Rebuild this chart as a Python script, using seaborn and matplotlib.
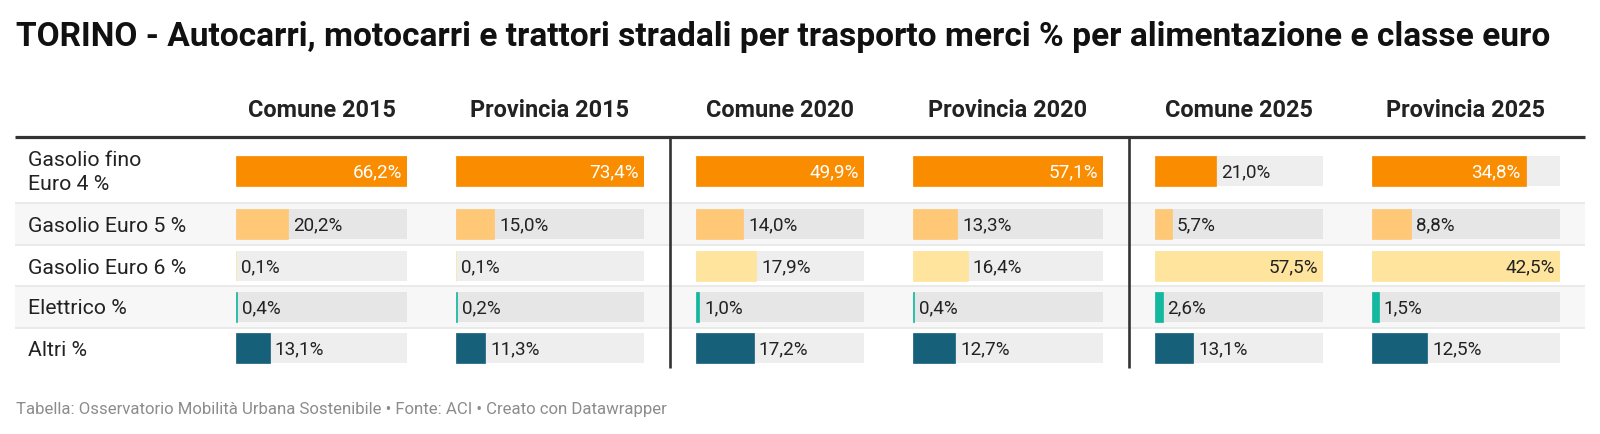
import matplotlib
matplotlib.use("Agg")
import matplotlib.pyplot as plt
import matplotlib.transforms as mtransforms
from matplotlib.patches import Rectangle
from matplotlib.colors import to_rgb
import seaborn as sns
import pandas as pd
import numpy as np

# ---------------- data ----------------
title = "TORINO - Autocarri, motocarri e trattori stradali per trasporto merci % per alimentazione e classe euro"
footer = "Tabella: Osservatorio Mobilità Urbana Sostenibile • Fonte: ACI • Creato con Datawrapper"
categories = ["Gasolio fino\nEuro 4 %", "Gasolio Euro 5 %", "Gasolio Euro 6 %", "Elettrico %", "Altri %"]
columns = ["Comune 2015", "Provincia 2015", "Comune 2020", "Provincia 2020", "Comune 2025", "Provincia 2025"]
comune_2015 = [66.2, 20.2, 0.1, 0.4, 13.1]
provincia_2015 = [73.4, 15.0, 0.1, 0.2, 11.3]
comune_2020 = [49.9, 14.0, 17.9, 1.0, 17.2]
provincia_2020 = [57.1, 13.3, 16.4, 0.4, 12.7]
comune_2025 = [21.0, 5.7, 57.5, 2.6, 13.1]
provincia_2025 = [34.8, 8.8, 42.5, 1.5, 12.5]
series = [comune_2015, provincia_2015, comune_2020, provincia_2020, comune_2025, provincia_2025]

# ---------------- style / layout ----------------
bar_colors = ["#fa8c00", "#fec877", "#fee49c", "#12b99f", "#16607a"]
track_colors = ["#eeeeee", "#e6e6e6", "#eeeeee", "#e6e6e6", "#eeeeee"]
W, H = 1600, 434
col_x = [(236, 407), (456, 644), (696, 864), (913, 1103), (1155, 1323), (1372, 1560)]
row_center = [171, 224, 266, 307, 348]
row_bounds = [137, 203, 245, 286, 328, 369]
bar_h = 30
sep_x = [670, 1129]
t_left, t_right = 15, 1585
dark = "#222222"

sns.set_theme(style="white")
plt.rcParams["font.family"] = ["Roboto", "DejaVu Sans"]

fig = plt.figure(figsize=(W / 100, H / 100), dpi=100)
fig.patch.set_facecolor("white")

ax0 = fig.add_axes([0, 0, 1, 1])
ax0.set_xlim(0, W)
ax0.set_ylim(H, 0)
ax0.axis("off")

# alternating row shading
for i in range(len(categories)):
    if i % 2 == 1:
        ax0.add_patch(Rectangle((t_left, row_bounds[i]), t_right - t_left,
                                row_bounds[i + 1] - row_bounds[i],
                                facecolor="#f7f7f7", edgecolor="none", zorder=0))
# light row separators
for yb in row_bounds[1:-1]:
    ax0.plot([t_left, t_right], [yb, yb], color="#e8e8e8", lw=1.3, zorder=1,
             solid_capstyle="butt")
# header rule
ax0.plot([t_left, t_right], [row_bounds[0], row_bounds[0]], color="#333333", lw=2.3,
         zorder=3, solid_capstyle="butt")
# group separators
for sx in sep_x:
    ax0.plot([sx, sx], [row_bounds[0], row_bounds[-1] - 1], color="#333333", lw=1.9,
             zorder=3, solid_capstyle="butt")

# title, footer
ax0.text(16, 46, title, fontsize=24.1, fontweight="bold", color="#111111", va="baseline")
ax0.text(16, 414, footer, fontsize=12.05, color="#8c8c8c", va="baseline")

# row labels
line_gap = 24
for cat, yc in zip(categories, row_center):
    lines = cat.split("\n")
    n = len(lines)
    for k, ln in enumerate(lines):
        yb = yc + 7.5 - (n - 1) * line_gap / 2 + k * line_gap
        ax0.text(28, yb, ln, fontsize=15.3, color=dark, va="baseline")

# column headers
for name, (x0, x1) in zip(columns, col_x):
    ax0.text((x0 + x1) / 2, 117, name, fontsize=16.9, fontweight="bold", color=dark,
             ha="center", va="baseline")

cat_keys = [c.replace("\n", " ") for c in categories]
bar_pal = dict(zip(cat_keys, bar_colors))
track_pal = dict(zip(cat_keys, track_colors))
min_gap = np.min(np.diff(sorted(row_center)))


def lum(c):
    r, g, b = to_rgb(c)
    return 0.2126 * r + 0.7152 * g + 0.0722 * b


for vals, (x0, x1) in zip(series, col_x):
    cmax = max(vals)
    ax = fig.add_axes([x0 / W, 0, (x1 - x0) / W, 1])
    ax.patch.set_alpha(0)
    df = pd.DataFrame({"pos": row_center, "value": vals, "cat": cat_keys,
                       "track": [cmax] * len(vals)})
    sns.barplot(data=df, x="track", y="pos", hue="cat", palette=track_pal, orient="y",
                native_scale=True, width=bar_h / min_gap, dodge=False, legend=False,
                errorbar=None, linewidth=0, saturation=1, ax=ax)
    n_track = len(ax.patches)
    sns.barplot(data=df, x="value", y="pos", hue="cat", palette=bar_pal, orient="y",
                native_scale=True, width=bar_h / min_gap, dodge=False, legend=False,
                errorbar=None, linewidth=0, saturation=1, ax=ax)
    for p in ax.patches[n_track:]:
        p.set_edgecolor(p.get_facecolor())
        p.set_linewidth(0.5)
    ax.set_xlim(0, cmax)
    ax.set_ylim(H, 0)
    ax.axis("off")

    inside_tr = mtransforms.offset_copy(ax.transData, fig=fig, x=-5, y=0, units="dots")
    outside_tr = mtransforms.offset_copy(ax.transData, fig=fig, x=5, y=0, units="dots")
    for v, yc, col in zip(vals, row_center, bar_colors):
        label = f"{v:.1f}".replace(".", ",") + "%"
        if v / cmax > 0.6:
            tc = "white" if lum(col) < 0.7 else dark
            ax.text(v, yc + 6.5, label, fontsize=13.6, color=tc, ha="right",
                    va="baseline", transform=inside_tr)
        else:
            ax.text(v, yc + 6.5, label, fontsize=13.6, color=dark, ha="left",
                    va="baseline", transform=outside_tr)

fig.savefig("out.png", dpi=100, facecolor="white")
